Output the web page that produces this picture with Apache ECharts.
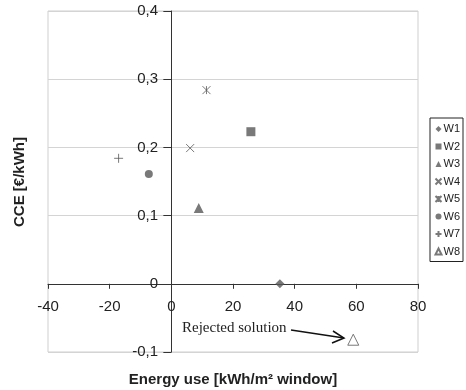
<!DOCTYPE html>
<html><head><meta charset="utf-8">
<script src="https://cdn.jsdelivr.net/npm/echarts@6/dist/echarts.min.js"></script>
<style>html,body{margin:0;padding:0;background:#fff}#c{width:466px;height:390px}</style>
</head><body><div id="c"></div>
<script>
const seriesNames = ['W1','W2','W3','W4','W5','W6','W7','W8'];
const energyUse = [35.2, 25.8, 8.9, 6.1, 11.4, -7.3, -17.1, 59.0];
const cce = [0.0, 0.223, 0.111, 0.199, 0.284, 0.161, 0.184, -0.082];
const xTicks = [-40, -20, 0, 20, 40, 60, 80];
const yTicks = [-0.1, 0, 0.1, 0.2, 0.3, 0.4];

const G = '#575757';
const symbols = [
  {symbol:'diamond', size:9, style:{color:G}},
  {symbol:'rect', size:9, style:{color:G}},
  {symbol:'triangle', size:10, style:{color:G}},
  {symbol:'path://M0,0L10,10M10,0L0,10', size:8, style:{color:'none', borderColor:G, borderWidth:1}},
  {symbol:'path://M0,0L10,10M10,0L0,10M5,0L5,10', size:8, style:{color:'none', borderColor:G, borderWidth:1}},
  {symbol:'circle', size:8, style:{color:G}},
  {symbol:'path://M5,0L5,10M0,5L10,5', size:9, style:{color:'none', borderColor:G, borderWidth:1}},
  {symbol:'triangle', size:11, style:{color:'#fff', borderColor:G, borderWidth:1}}
];

const chart = echarts.init(document.getElementById('c'));
chart.setOption({
  animation:false,
  textStyle:{fontFamily:'Liberation Sans, Arial, sans-serif'},
  grid:{left:48, right:48, top:11, bottom:38, show:true, borderColor:'#cfcfcf', borderWidth:1},
  xAxis:{type:'value', min:xTicks[0], max:xTicks[xTicks.length-1], interval:20,
    axisLine:{onZero:true, lineStyle:{color:'#333', width:1}},
    axisTick:{show:true, length:5, lineStyle:{color:'#333'}},
    axisLabel:{color:'#222', fontSize:15, margin:-53},
    splitLine:{show:false}},
  yAxis:{type:'value', min:yTicks[0], max:yTicks[yTicks.length-1], interval:0.1,
    axisLine:{show:true, onZero:true, lineStyle:{color:'#333', width:1}},
    axisTick:{show:true, length:8, lineStyle:{color:'#333'}},
    axisLabel:{color:'#222', fontSize:15, margin:-110,
      formatter:v=>{ if (Math.abs(v)<1e-9) return '0'; return v.toFixed(1).replace('.',','); }},
    splitLine:{show:true, lineStyle:{color:'#d4d4d4', width:1}}},
  legend:{orient:'vertical', right:3, top:118, itemGap:5.5, itemWidth:6, itemHeight:6,
    padding:[5,3,4,3], borderColor:'#222', borderWidth:1,
    textStyle:{fontSize:11, lineHeight:12, color:'#222', padding:[0,0,0,-3]},
    data:seriesNames},
  series: seriesNames.map((n,i)=>({
    name:n, type:'scatter', symbol:symbols[i].symbol, symbolSize:symbols[i].size,
    itemStyle:symbols[i].style,
    data:[[energyUse[i], cce[i]]]
  })),
  graphic:[
    {type:'text', left:'center', top:372, style:{text:'Energy use [kWh/m² window]', font:'bold 15px Liberation Sans, Arial', fill:'#222'}},
    {type:'text', x:20, y:182, rotation:Math.PI/2, style:{text:'CCE [€/kWh]', font:'bold 15px Liberation Sans, Arial', fill:'#222', align:'center', verticalAlign:'middle'}},
    {type:'text', x:182, y:321, style:{text:'Rejected solution', font:'15px Liberation Serif, Times New Roman', fill:'#222'}},
    {type:'line', shape:{x1:291, y1:330, x2:344, y2:338}, style:{stroke:'#111', lineWidth:1.5}},
    {type:'polyline', shape:{points:[[333,331],[344,338],[332,343]]}, style:{stroke:'#111', lineWidth:1.5, fill:null}}
  ]
});
</script></body></html>
